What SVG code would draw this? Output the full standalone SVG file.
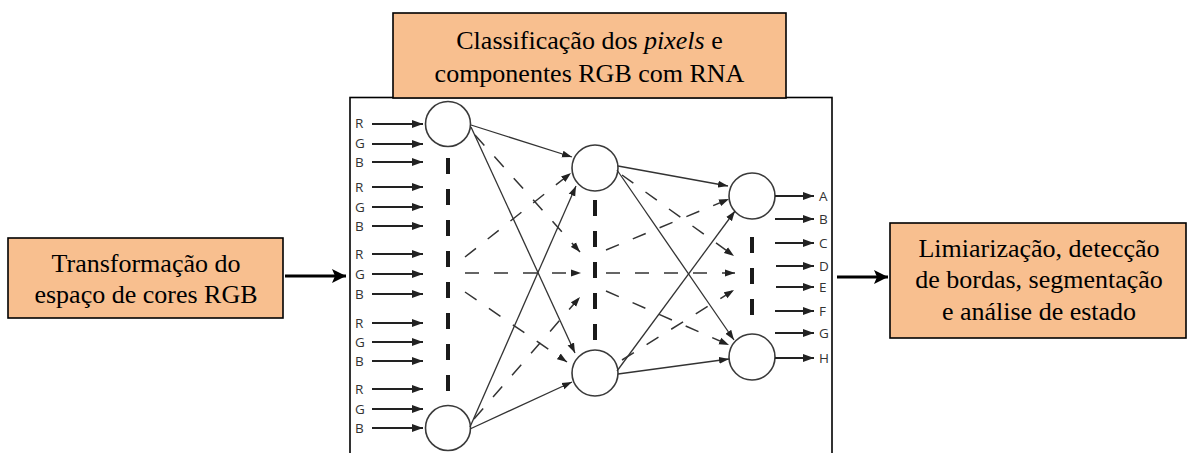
<svg xmlns="http://www.w3.org/2000/svg" width="1187" height="453" viewBox="0 0 1187 453">
  <style>
    .box { fill: #F8BF8F; stroke: #000; stroke-width: 1.6; }
    .frame { fill: #fff; stroke: #000; stroke-width: 1.6; }
    .title { font-family: "Liberation Serif", "Times New Roman", serif; font-size: 26px; fill: #000; text-anchor: middle; }
    .lbl { font-family: "Open Sans", "DejaVu Sans", sans-serif; font-size: 13.5px; fill: #333; }
    .neuron { fill: #fff; stroke: #3a3a3a; stroke-width: 1.6; }
    .col { stroke: #1a1a1a; stroke-width: 4; stroke-dasharray: 16 15; fill: none; }
    .in { stroke: #222; stroke-width: 2; fill: none; marker-end: url(#ah-in); }
    .w { stroke: #333; stroke-width: 1.3; fill: none; marker-end: url(#ah-w); }
    .wd { stroke: #333; stroke-width: 1.5; fill: none; stroke-dasharray: 14 15; marker-end: url(#ah-w); }
    .big { stroke: #000; stroke-width: 3; fill: none; marker-end: url(#ah-big); }
  </style>
  <defs>
    <marker id="ah-in" markerUnits="userSpaceOnUse" markerWidth="12" markerHeight="8" refX="11" refY="4" orient="auto">
      <path d="M0,0 L11,4 L0,8 Z" fill="#222"/>
    </marker>
    <marker id="ah-w" markerUnits="userSpaceOnUse" markerWidth="11" markerHeight="8" refX="10" refY="4" orient="auto">
      <path d="M0,0.5 L10,4 L0,7.5 Z" fill="#222"/>
    </marker>
    <marker id="ah-big" markerUnits="userSpaceOnUse" markerWidth="15" markerHeight="14" refX="14" refY="7" orient="auto">
      <path d="M0,0 L14,7 L0,14 L3,7 Z" fill="#000"/>
    </marker>
  </defs>

  <!-- network frame -->
  <g id="network-frame">
    <rect class="frame" x="350" y="97.5" width="482" height="370"/>
  </g>

  <!-- process boxes -->
  <g id="node-rna">
    <rect class="box" x="393" y="13" width="393" height="85"/>
    <text class="title" x="589.5" y="49">Classificação dos <tspan font-style="italic">pixels</tspan> e</text>
    <text class="title" x="589.5" y="82">componentes RGB com RNA</text>
  </g>
  <g id="node-rgb">
    <rect class="box" x="8" y="238" width="275" height="80"/>
    <text class="title" x="146" y="272">Transformação do</text>
    <text class="title" x="146" y="303">espaço de cores RGB</text>
  </g>
  <g id="node-post">
    <rect class="box" x="890" y="223" width="296" height="115"/>
    <text class="title" x="1039" y="257">Limiarização, detecção</text>
    <text class="title" x="1039" y="288">de bordas, segmentação</text>
    <text class="title" x="1039" y="320">e análise de estado</text>
  </g>

  <!-- neurons -->
  <g id="layer-input">
    <circle class="neuron" cx="448" cy="124" r="22.5"/>
    <circle class="neuron" cx="448" cy="428" r="22.5"/>
    <line class="col" x1="448" y1="158" x2="448" y2="393"/>
  </g>
  <g id="layer-hidden">
    <circle class="neuron" cx="595" cy="168" r="23"/>
    <circle class="neuron" cx="595" cy="373" r="23"/>
    <line class="col" x1="595" y1="200" x2="595" y2="341"/>
  </g>
  <g id="layer-output">
    <circle class="neuron" cx="752" cy="196" r="23"/>
    <circle class="neuron" cx="752" cy="357" r="23"/>
    <line class="col" x1="752" y1="237" x2="752" y2="317"/>
  </g>

  <!-- input labels -->
  <g id="inputs-labels">
    <text class="lbl" x="355" y="128">R</text>
    <text class="lbl" x="355" y="148">G</text>
    <text class="lbl" x="355" y="167">B</text>
    <text class="lbl" x="355" y="192">R</text>
    <text class="lbl" x="355" y="212">G</text>
    <text class="lbl" x="355" y="231">B</text>
    <text class="lbl" x="355" y="259">R</text>
    <text class="lbl" x="355" y="279">G</text>
    <text class="lbl" x="355" y="299">B</text>
    <text class="lbl" x="355" y="328">R</text>
    <text class="lbl" x="355" y="347">G</text>
    <text class="lbl" x="355" y="366">B</text>
    <text class="lbl" x="355" y="394">R</text>
    <text class="lbl" x="355" y="414">G</text>
    <text class="lbl" x="355" y="433">B</text>
  </g>

  <!-- output labels -->
  <g id="outputs-labels">
    <text class="lbl" x="819" y="201">A</text>
    <text class="lbl" x="819" y="224">B</text>
    <text class="lbl" x="819" y="248">C</text>
    <text class="lbl" x="819" y="271">D</text>
    <text class="lbl" x="819" y="292">E</text>
    <text class="lbl" x="819" y="316">F</text>
    <text class="lbl" x="819" y="338">G</text>
    <text class="lbl" x="819" y="363">H</text>
  </g>

  <!-- connectors -->
  <g id="connectors">
    <!-- input signals -->
    <line class="in" x1="372" y1="124" x2="423" y2="124"/>
    <line class="in" x1="372" y1="144" x2="423" y2="144"/>
    <line class="in" x1="372" y1="162" x2="423" y2="162"/>
    <line class="in" x1="372" y1="187" x2="423" y2="187"/>
    <line class="in" x1="372" y1="207" x2="423" y2="207"/>
    <line class="in" x1="372" y1="226" x2="423" y2="226"/>
    <line class="in" x1="372" y1="254" x2="423" y2="254"/>
    <line class="in" x1="372" y1="274" x2="423" y2="274"/>
    <line class="in" x1="372" y1="294" x2="423" y2="294"/>
    <line class="in" x1="372" y1="323" x2="423" y2="323"/>
    <line class="in" x1="372" y1="342" x2="423" y2="342"/>
    <line class="in" x1="372" y1="361" x2="423" y2="361"/>
    <line class="in" x1="372" y1="389" x2="423" y2="389"/>
    <line class="in" x1="372" y1="409" x2="423" y2="409"/>
    <line class="in" x1="372" y1="428" x2="423" y2="428"/>

    <!-- input layer to hidden layer -->
    <line class="w" x1="471" y1="125" x2="572" y2="157"/>
    <line class="w" x1="471" y1="127" x2="575" y2="353"/>
    <line class="w" x1="470" y1="427" x2="576" y2="186"/>
    <line class="w" x1="470" y1="429" x2="572" y2="382"/>
    <line class="wd" x1="475" y1="135" x2="580" y2="252"/>
    <line class="wd" x1="465" y1="257" x2="571" y2="173"/>
    <line class="wd" x1="465" y1="273" x2="581" y2="273"/>
    <line class="wd" x1="465" y1="292" x2="567" y2="362"/>
    <line class="wd" x1="474" y1="419" x2="580" y2="297"/>

    <!-- hidden layer to output layer -->
    <line class="w" x1="618" y1="166" x2="728" y2="186"/>
    <line class="w" x1="617" y1="170" x2="734" y2="340"/>
    <line class="w" x1="617" y1="371" x2="735" y2="211"/>
    <line class="w" x1="618" y1="374" x2="729" y2="359"/>
    <line class="wd" x1="622" y1="175" x2="734" y2="256"/>
    <line class="wd" x1="606" y1="250" x2="729" y2="199"/>
    <line class="wd" x1="606" y1="273" x2="735" y2="273"/>
    <line class="wd" x1="606" y1="291" x2="729" y2="345"/>
    <line class="wd" x1="622" y1="360" x2="734" y2="290"/>

    <!-- output signals -->
    <line class="in" x1="775" y1="196" x2="814" y2="196"/>
    <line class="in" x1="775" y1="219" x2="814" y2="219"/>
    <line class="in" x1="775" y1="243" x2="814" y2="243"/>
    <line class="in" x1="776" y1="266" x2="814" y2="266"/>
    <line class="in" x1="776" y1="287" x2="814" y2="287"/>
    <line class="in" x1="775" y1="311" x2="814" y2="311"/>
    <line class="in" x1="775" y1="333" x2="814" y2="333"/>
    <line class="in" x1="775" y1="358" x2="814" y2="358"/>

    <!-- process flow -->
    <line class="big" x1="285" y1="276" x2="346" y2="276"/>
    <line class="big" x1="837" y1="277" x2="888" y2="277"/>
  </g>
</svg>
